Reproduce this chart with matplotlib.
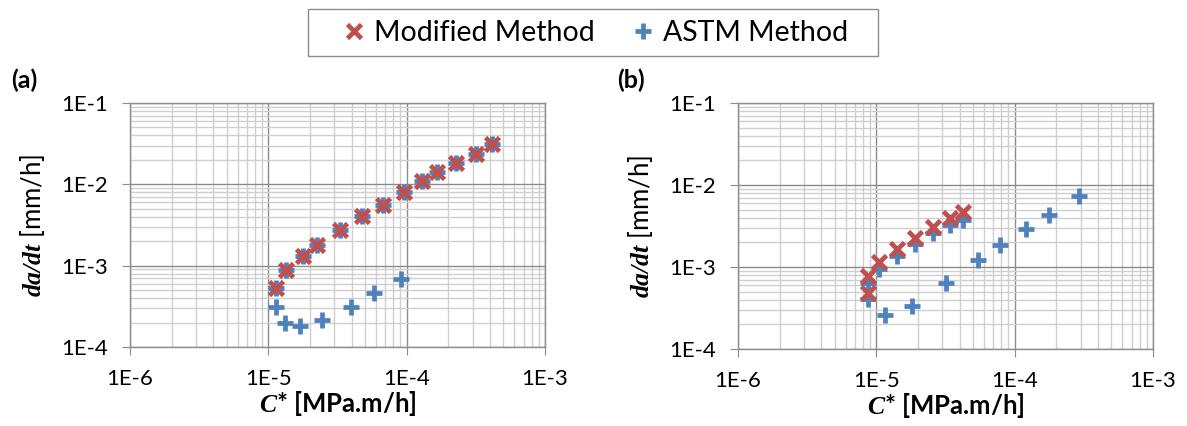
import matplotlib
matplotlib.use("Agg")
import matplotlib.pyplot as plt
from matplotlib.patches import Rectangle
from matplotlib.ticker import LogLocator, FixedLocator, NullFormatter

plt.rcParams["font.family"] = ["Lato", "DejaVu Sans"]
plt.rcParams["mathtext.fontset"] = "custom"
plt.rcParams["mathtext.it"] = "Liberation Serif:italic:bold"
plt.rcParams["mathtext.bf"] = "Liberation Serif:italic:bold"
plt.rcParams["mathtext.rm"] = "Liberation Serif:bold"

# panel (a)
a_mod_x = [1.13e-5, 1.35e-5, 1.77e-5, 2.25e-5, 3.28e-5, 4.76e-5, 6.74e-5,
           9.51e-5, 1.30e-4, 1.67e-4, 2.26e-4, 3.15e-4, 4.13e-4]
a_mod_y = [5.26e-4, 8.75e-4, 1.32e-3, 1.79e-3, 2.72e-3, 4.07e-3, 5.61e-3,
           8.04e-3, 1.10e-2, 1.42e-2, 1.83e-2, 2.38e-2, 3.10e-2]
a_astm_x = a_mod_x + [1.13e-5, 1.32e-5, 1.68e-5, 2.46e-5, 3.94e-5, 5.85e-5, 9.05e-5]
a_astm_y = a_mod_y + [3.13e-4, 2.00e-4, 1.79e-4, 2.14e-4, 3.13e-4, 4.56e-4, 6.90e-4]

# panel (b)
b_mod_x = [8.65e-6, 8.65e-6, 1.04e-5, 1.40e-5, 1.90e-5, 2.58e-5, 3.43e-5, 4.26e-5]
b_mod_y = [4.82e-4, 7.68e-4, 1.14e-3, 1.67e-3, 2.28e-3, 3.07e-3, 3.91e-3, 4.63e-3]
b_astm_x = [8.65e-6, 8.65e-6, 1.04e-5, 1.40e-5, 1.90e-5, 2.58e-5, 3.43e-5, 4.26e-5,
            1.15e-5, 1.81e-5, 3.21e-5, 5.47e-5, 7.85e-5, 1.20e-4, 1.76e-4, 2.92e-4]
b_astm_y = [4.07e-4, 6.38e-4, 9.53e-4, 1.37e-3, 1.92e-3, 2.60e-3, 3.25e-3, 3.78e-3,
            2.57e-4, 3.37e-4, 6.38e-4, 1.23e-3, 1.83e-3, 2.90e-3, 4.35e-3, 7.41e-3]

x_ticks = [1e-6, 1e-5, 1e-4, 1e-3]
x_labels = ["1E-6", "1E-5", "1E-4", "1E-3"]
y_ticks = [1e-4, 1e-3, 1e-2, 1e-1]
y_labels = ["1E-4", "1E-3", "1E-2", "1E-1"]

red = "#C0504D"
blue = "#4F81BD"
W, H = 1187, 426

fig = plt.figure(figsize=(W / 100, H / 100), dpi=100)
ax_a = fig.add_axes([130 / W, 1 - 347 / H, 415 / W, 244 / H])
ax_b = fig.add_axes([738 / W, 1 - 349 / H, 415 / W, 246 / H])


def style(ax, mod_x, mod_y, astm_x, astm_y, tag, tag_x):
    ax.set_xscale("log")
    ax.set_yscale("log")
    ax.set_xlim(1e-6, 1e-3)
    ax.set_ylim(1e-4, 1e-1)
    hb, = ax.plot(astm_x, astm_y, "+", color=blue, ms=12, mew=3.4, zorder=3)
    hr, = ax.plot(mod_x, mod_y, "x", color=red, ms=9.5, mew=3.4, zorder=4)
    ax.xaxis.set_major_locator(FixedLocator(x_ticks))
    ax.yaxis.set_major_locator(FixedLocator(y_ticks))
    ax.set_xticklabels(x_labels)
    ax.set_yticklabels(y_labels)
    ax.xaxis.set_minor_locator(LogLocator(base=10, subs=range(2, 10)))
    ax.yaxis.set_minor_locator(LogLocator(base=10, subs=range(2, 10)))
    ax.xaxis.set_minor_formatter(NullFormatter())
    ax.yaxis.set_minor_formatter(NullFormatter())
    ax.grid(True, which="minor", color="#cfcfcf", lw=1.0)
    ax.grid(True, which="major", color="#8c8c8c", lw=1.0)
    ax.set_axisbelow(True)
    for s in ax.spines.values():
        s.set_color("#8c8c8c")
        s.set_linewidth(1.0)
    ax.tick_params(which="major", direction="out", length=6, color="#8c8c8c",
                   labelsize=16, pad=10)
    ax.tick_params(which="minor", length=0)
    ax.set_xlabel(r"$\mathbf{C}$* [MPa.m/h]", fontsize=18.5, fontweight="bold",
                  labelpad=0)
    ax.set_ylabel(r"$\mathbf{da/dt}$ [mm/h]", fontsize=18.5, labelpad=10)
    fig.text(tag_x / W, 1 - 80 / H, tag, fontsize=18, fontweight="bold",
             ha="left", va="center")
    return hr, hb


hr, hb = style(ax_a, a_mod_x, a_mod_y, a_astm_x, a_astm_y, "(a)", 11)
style(ax_b, b_mod_x, b_mod_y, b_astm_x, b_astm_y, "(b)", 617)

# legend box drawn by hand, legend itself without frame
fig.patches.append(Rectangle((308 / W, 1 - 56 / H), 570 / W, 47 / H,
                             transform=fig.transFigure, fill=False,
                             edgecolor="#8c8c8c", lw=1.0))
fig.legend([hr, hb], ["Modified Method", "ASTM Method"], loc="center",
           bbox_to_anchor=(595 / W, 1 - 33 / H), ncol=2, fontsize=20.5,
           frameon=False, handlelength=0.8, handletextpad=0.3,
           columnspacing=1.3, borderaxespad=0)

fig.savefig("out.png", dpi=100)
